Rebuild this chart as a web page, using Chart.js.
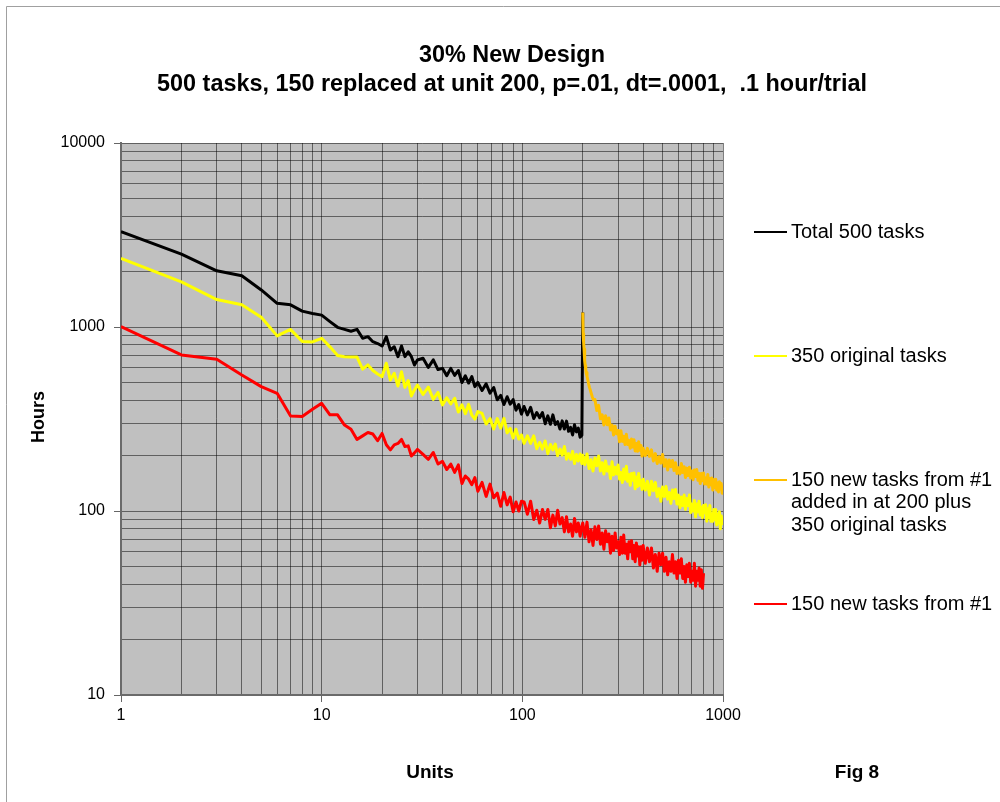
<!DOCTYPE html>
<html><head><meta charset="utf-8">
<script src="https://cdn.jsdelivr.net/npm/chart.js@4.4.1/dist/chart.umd.min.js"></script>
<style>html,body{margin:0;padding:0;background:#fff}#wrap{width:1000px;height:802px}</style>
</head><body><div id="wrap"><canvas id="c" width="1000" height="802"></canvas></div>
<script>
const FONT = "'Liberation Sans', Arial, Helvetica, sans-serif";
const titleLines = ['30% New Design', '500 tasks, 150 replaced at unit 200, p=.01, dt=.0001,  .1 hour/trial'];
const xTitle = 'Units';
const yTitle = 'Hours';
const figLabel = 'Fig 8';
const legendLabels = [
  ['Total 500 tasks'],
  ['350 original tasks'],
  ['150 new tasks from #1', 'added in at 200 plus', '350 original tasks'],
  ['150 new tasks from #1']
];
const seriesColors = ['#000000', '#FFFF00', '#FFC000', '#FF0000'];

// tick values
const xTicks = [1,2,3,4,5,6,7,8,9,10,20,30,40,50,60,70,80,90,100,200,300,400,500,600,700,800,900,1000];
const yTicks = [10,20,30,40,50,60,70,80,90,100,200,300,400,500,600,700,800,900,1000,2000,3000,4000,5000,6000,7000,8000,9000,10000];

// unit (x) sample positions
const unitsEarly = [1,2,3,4,5,6,7,8,9,10,11,12,13,14,15,16,17,18,19,20,21,22,23,24,25,26,27,28,29,30,
  32,34,36,38,40,42,44,46,48,50,52,54,56,58,60,
  63,66,69,72,75,78,81,84,87,90,93,96,99,
  102,106,110,114,118,122,126,130,134,138,142,146,150,154,158,162,166,170,174,178,182,186,190,194,198];
const unitsMid = [200,205,210,215,220,225,230,235,240,245,250,255,260,265,270,275,280,285,290,295,
  300,305,310,315,320,325,330,335,340,345,350,355,360,365,370,375,380,385,390,395,400];
const unitsLate = [410,420,430,440,450,460,470,480,490,500,510,520,530,540,550,560,570,580,590,600,
  610,620,630,640,650,660,670,680,690,700,710,720,730,740,750,760,770,780,790,800,
  810,820,830,840,850,860,870,880,890,900,910,920,930,940,950,960,970,980,990,1000];
const unitsOrangeHead = [200,201,202,203,204,205,206,207,208,210,212,214,216,218,220,223,226,
  230,235,240,245,250,255,260,265,270,275,280,285,290,295,300,305,310,315,320,325,330,335,340,345,
  350,355,360,365,370,375,380,385,390,395,400];

// Total 500 tasks (units 1..198, then 200)
const totalHours = [3300,2490,2020,1900,1590,1345,1320,1220,1185,1160,
  1070,996,971,948,971,868,886,832,813,788,
  886,750,781,690,788,690,734,690,621,662,
  676,603,663,587,596,544,596,546,580,499,543,496,538,474,500,
  452,491,437,469,402,425,379,418,381,403,353,379,336,
  370,333,366,318,343,321,343,298,329,296,333,295,306,279,309,279,308,271,285,259,294,269,282,252,258,
  1200];

// 350 original tasks
const originalHours = [2360,1760,1410,1320,1130,895,970,835,830,868,
  780,700,690,688,686,590,622,580,555,537,
  635,515,560,478,571,470,512,422,455,484,
  430,471,404,441,377,412,382,410,345,378,338,380,332,316,347,
  339,297,318,279,318,282,319,266,281,249,278,246,259,
  233,256,233,256,218,236,217,240,205,230,215,231,200,217,201,224,191,205,191,211,181,203,187,204,181,
  201,179,204,170,190,165,194,176,199,165,183,159,187,165,174,150,185,157,173,159,
  178,149,162,143,169,149,175,145,158,138,160,147,161,132,153,136,160,138,146,131,149,
  130,145,122,145,129,143,120,132,113,135,120,136,116,126,110,130,117,131,109,122,
  104,119,107,122,102,117,107,122,98,109,100,114,93,109,99,113,95,105,92,107,
  98,108,88,103,92,107,88,96,88,102,90,102,84,95,86,99,80,94,86,84];

// 150 new tasks added at 200 plus 350 original tasks
const combinedHours = [1200,920,830,760,700,655,615,590,565,540,515,490,470,455,440,418,402,
  404,352,375,317,333,293,329,294,320,276,293,259,289,263,274,238,273,239,255,230,261,230,242,219,
  246,223,244,212,233,211,238,214,227,199,219,
  200,219,198,215,187,205,181,197,182,203,175,190,167,189,174,188,166,183,160,172,
  159,181,162,174,152,171,156,173,151,165,148,167,154,168,147,160,141,160,146,161,
  140,151,140,158,135,150,139,151,130,148,134,149,130,142,127,144,132,141,125,137];

// 150 new tasks from #1
const newHours = [1005,705,668,548,474,436,328,326,357,385,
  333,333,293,278,245,256,267,262,241,264,
  229,215,229,233,245,224,226,199,207,216,
  203,191,208,180,186,168,180,162,178,141,155,149,139,152,128,
  143,120,140,118,125,106,126,108,119,99,112,100,113,
  112,96,113,90,101,86,102,90,102,81,95,83,101,85,92,77,93,77,85,73,91,77,86,73,83,
  86,72,87,68,79,65,82,70,83,66,76,62,78,68,75,59,73,61,76,63,
  68,58,72,59,74,59,66,55,68,60,69,55,65,53,67,57,64,51,64,54,65,
  52,63,53,63,49,58,47,59,51,59,47,56,45,53,47,58,46,53,43,54,
  46,55,43,50,41,51,44,52,41,47,42,52,39,47,42,49,39,48,38,46];

const unitsTotal = unitsEarly.concat([200]);
const unitsOriginal = unitsEarly.concat(unitsMid, unitsLate);
const unitsCombined = unitsOrangeHead.concat(unitsLate);
const unitsNew = unitsEarly.concat(unitsMid, unitsLate.slice(0, 40));

const pts = (xs, ys) => xs.map((x, i) => ({x: x, y: ys[i]}));
const isPow10 = v => Math.abs(Math.log10(v) - Math.round(Math.log10(v))) < 1e-9;

const textPlugin = {
  id: 'textPlugin',
  beforeDraw(chart) {
    const {ctx, chartArea: a} = chart;
    ctx.save();
    ctx.fillStyle = '#ffffff';
    ctx.fillRect(0, 0, chart.width, chart.height);
    ctx.fillStyle = '#c0c0c0';
    ctx.fillRect(a.left, a.top, a.right - a.left, a.bottom - a.top);
    ctx.restore();
  },
  afterDraw(chart) {
    const ctx = chart.ctx;
    ctx.save();
    // frame
    ctx.strokeStyle = '#a0a0a0';
    ctx.lineWidth = 1;
    ctx.beginPath();
    ctx.moveTo(6.5, 802); ctx.lineTo(6.5, 6.5); ctx.lineTo(1000, 6.5);
    ctx.stroke();
    // title
    ctx.fillStyle = '#000';
    ctx.textAlign = 'center';
    ctx.textBaseline = 'alphabetic';
    ctx.font = `bold 23.4px ${FONT}`;
    ctx.fillText(titleLines[0], 512, 62);
    ctx.fillText(titleLines[1], 512, 91);
    // axis titles
    ctx.font = `bold 19px ${FONT}`;
    ctx.fillText(xTitle, 430, 778);
    ctx.fillText(figLabel, 857, 778);
    ctx.save();
    ctx.translate(44, 417);
    ctx.rotate(-Math.PI / 2);
    ctx.font = `bold 18px ${FONT}`;
    ctx.fillText(yTitle, 0, 0);
    ctx.restore();
    // legend
    const rowsY = [232, 356, 480, 604];
    ctx.font = `20px ${FONT}`;
    ctx.textAlign = 'left';
    ctx.textBaseline = 'middle';
    rowsY.forEach((y, i) => {
      ctx.strokeStyle = seriesColors[i];
      ctx.lineWidth = 2;
      ctx.beginPath(); ctx.moveTo(754, y); ctx.lineTo(787, y); ctx.stroke();
      ctx.fillStyle = '#000';
      legendLabels[i].forEach((t, k) => ctx.fillText(t, 791, y + k * 22.5));
    });
    ctx.restore();
  }
};

const gridOpts = {
  color: 'rgba(0,0,0,0.5)',
  lineWidth: 1,
  drawTicks: true,
  tickLength: 7,
  tickColor: (c) => (c.tick && isPow10(c.tick.value)) ? '#666' : 'rgba(0,0,0,0)',
  tickWidth: 1
};

new Chart(document.getElementById('c'), {
  type: 'line',
  data: {
    datasets: [
      {label: legendLabels[0].join(' '), data: pts(unitsTotal, totalHours), borderColor: seriesColors[0], order: 1},
      {label: legendLabels[1].join(' '), data: pts(unitsOriginal, originalHours), borderColor: seriesColors[1], order: 2},
      {label: legendLabels[2].join(' '), data: pts(unitsCombined, combinedHours), borderColor: seriesColors[2], order: 0},
      {label: legendLabels[3].join(' '), data: pts(unitsNew, newHours), borderColor: seriesColors[3], order: 3}
    ].map(d => Object.assign(d, {borderWidth: 3, pointRadius: 0, fill: false, tension: 0, borderJoinStyle: 'round'}))
  },
  options: {
    responsive: false,
    devicePixelRatio: 1,
    animation: false,
    events: [],
    layout: {padding: {left: 0, right: 277, top: 143, bottom: 67}},
    plugins: {legend: {display: false}, title: {display: false}, tooltip: {enabled: false}},
    scales: {
      x: {
        type: 'logarithmic', min: 1, max: 1000,
        afterBuildTicks: s => { s.ticks = xTicks.map(v => ({value: v, major: isPow10(v)})); },
        afterFit: s => { s.height = 40; },
        ticks: {autoSkip: false, maxRotation: 0, minRotation: 0, padding: 4, color: '#000',
          font: {family: FONT, size: 16},
          callback: v => isPow10(v) ? String(v) : ''},
        grid: gridOpts,
        border: {display: true, color: '#6a6a6a', width: 2}
      },
      y: {
        type: 'logarithmic', min: 10, max: 10000,
        afterBuildTicks: s => { s.ticks = yTicks.map(v => ({value: v, major: isPow10(v)})); },
        afterFit: s => { s.width = 121; },
        ticks: {autoSkip: false, padding: 9, color: '#000',
          font: {family: FONT, size: 16},
          callback: v => isPow10(v) ? String(v) : ''},
        grid: gridOpts,
        border: {display: true, color: '#6a6a6a', width: 2}
      }
    }
  },
  plugins: [textPlugin]
});
</script></body></html>
